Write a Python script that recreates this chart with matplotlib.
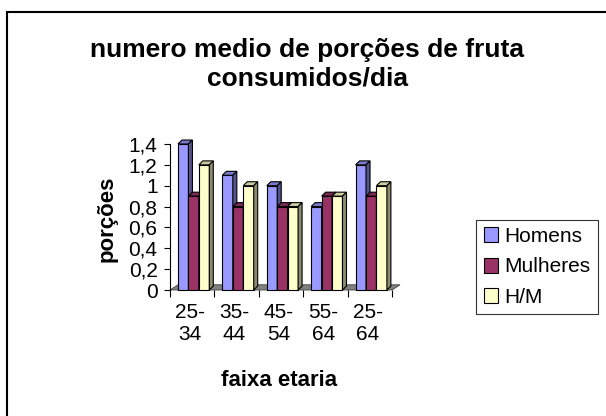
import numpy as np
import matplotlib
matplotlib.use('Agg')
from matplotlib import pyplot as plt
from matplotlib.patches import Polygon, Rectangle

plt.rcParams['font.family'] = ['Liberation Sans', 'DejaVu Sans']

# dados
faixas = ['25-\n34', '35-\n44', '45-\n54', '55-\n64', '25-\n64']
series = ['Homens', 'Mulheres', 'H/M']
homens = [1.4, 1.1, 1.0, 0.8, 1.2]
mulheres = [0.9, 0.8, 0.8, 0.9, 0.9]
hm = [1.2, 1.0, 0.8, 0.9, 1.0]
valores = [homens, mulheres, hm]
cores = ['#9999ff', '#993366', '#ffffcc']
y_ticks = [0, 0.2, 0.4, 0.6, 0.8, 1.0, 1.2, 1.4]


def escurecer(cor, f):
    rgb = np.array(matplotlib.colors.to_rgb(cor))
    return tuple(rgb * f)


fig = plt.figure(figsize=(6.06, 4.16), dpi=100)
W, H = 606, 416

# moldura do grafico (sai pela direita e por baixo)
fig.patches.append(Rectangle((7 / W, -0.1), 1.2, 1 - 12 / H + 0.1,
                             transform=fig.transFigure, fill=False,
                             edgecolor='black', linewidth=1.5))

ax = fig.add_axes([170 / W, 126 / H, 222 / W, 146 / H])
ax.set_xlim(0, 5)
ax.set_ylim(0, 1.4)
ax.patch.set_visible(False)

# profundidade 3D (em unidades de dados)
dx_bar, dy_bar = 0.09, 0.038
dx_floor, dy_floor = 0.18, 0.05
largura = 0.235
inicio = 0.18

# chao
chao = Polygon([(0, 0), (5, 0), (5 + dx_floor, dy_floor), (dx_floor, dy_floor)],
               closed=True, facecolor='#808080', edgecolor='#404040',
               linewidth=0.6, clip_on=False, zorder=1)
ax.add_patch(chao)

x = np.arange(len(faixas))
for j, (nome, vals, cor) in enumerate(zip(series, valores, cores)):
    esq = x + inicio + j * largura
    ax.bar(esq, vals, width=largura, align='edge', color=cor,
           edgecolor='black', linewidth=0.8, label=nome, zorder=3 + j,
           clip_on=False)
    for xl, v in zip(esq, vals):
        xr = xl + largura
        topo = Polygon([(xl, v), (xr, v), (xr + dx_bar, v + dy_bar), (xl + dx_bar, v + dy_bar)],
                       closed=True, facecolor=escurecer(cor, 0.8), edgecolor='black',
                       linewidth=0.8, clip_on=False, zorder=3 + j)
        lado = Polygon([(xr, 0), (xr + dx_bar, dy_bar), (xr + dx_bar, v + dy_bar), (xr, v)],
                       closed=True, facecolor=escurecer(cor, 0.55), edgecolor='black',
                       linewidth=0.8, clip_on=False, zorder=3 + j)
        ax.add_patch(topo)
        ax.add_patch(lado)

for s in ['top', 'right', 'bottom']:
    ax.spines[s].set_visible(False)
ax.spines['left'].set_linewidth(0.8)

ax.set_yticks(y_ticks)
ax.set_yticklabels([('%g' % t).replace('.', ',') for t in y_ticks], fontsize=15)
ax.tick_params(axis='y', direction='out', length=4, width=0.8, pad=5)

ax.set_xticks(np.arange(6))
ax.set_xticklabels([])
ax.tick_params(axis='x', which='major', direction='out', length=5, width=0.8)
ax.set_xticks(x + 0.45, minor=True)
ax.set_xticklabels(faixas, minor=True, fontsize=15)
ax.tick_params(axis='x', which='minor', length=0, pad=9)

fig.text(307 / W, 1 - 64 / H, 'numero medio de porções de fruta\nconsumidos/dia',
         ha='center', va='center', fontsize=19, fontweight='bold', linespacing=1.25)
fig.text(279 / W, 1 - 381 / H, 'faixa etaria', ha='center', va='center',
         fontsize=16, fontweight='bold')
fig.text(107 / W, 1 - 219 / H, 'porções', ha='center', va='center',
         rotation=90, fontsize=16, fontweight='bold')

leg = fig.legend(loc='center', bbox_to_anchor=(537 / W, 1 - 267 / H),
                 fontsize=15, frameon=True, fancybox=False, shadow=False,
                 handlelength=0.7, handleheight=0.7, handletextpad=0.3,
                 labelspacing=0.55, borderpad=0.35, borderaxespad=0)
leg.get_frame().set_edgecolor('black')
leg.get_frame().set_linewidth(0.8)

fig.savefig('out.png', dpi=100)
